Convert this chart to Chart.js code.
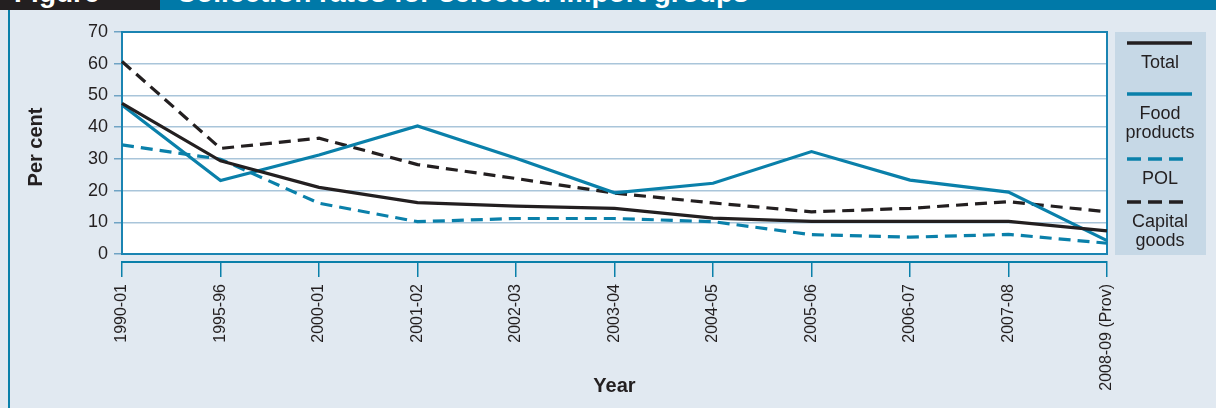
<!DOCTYPE html>
<html>
<head>
<meta charset="utf-8">
<script src="https://cdn.jsdelivr.net/npm/chart.js@4/dist/chart.umd.min.js"></script>
<style>
  html, body { margin: 0; padding: 0; }
  body { width: 1216px; height: 408px; background: #e1e9f1; position: relative; overflow: hidden; font-family: "Liberation Sans", Arial, sans-serif; }
  #head { position: absolute; left: 0; top: 0; width: 1216px; height: 10px; background: #0079a8; overflow: hidden; z-index: 2; }
  #fig { position: absolute; left: 0; top: 0; width: 160px; height: 10px; background: #231f20; overflow: hidden; }
  .htext { position: absolute; top: -21px; color: #fff; font-weight: bold; font-size: 28px; line-height: 28px; white-space: nowrap; }
  #edge { position: absolute; left: 8px; top: 10px; width: 2px; height: 398px; background: #0a80aa; }
  #chart { position: absolute; left: 0; top: 0; }
</style>
</head>
<body>
<div id="head">
  <div id="fig"><span class="htext" style="left:14px">Figure</span></div>
  <span class="htext" style="left:176px">Collection rates for selected import groups</span>
</div>
<div id="edge"></div>
<canvas id="chart" width="1216" height="408"></canvas>
<script>
const years = ['1990-01', '1995-96', '2000-01', '2001-02', '2002-03', '2003-04', '2004-05', '2005-06', '2006-07', '2007-08', '2008-09 (Prov)'];
const total = [47.5, 29.4, 21, 16.2, 15.1, 14.4, 11.3, 10.3, 10.3, 10.3, 7.3];
const foodProducts = [47, 23.2, 31.2, 40.4, 30.2, 19.3, 22.3, 32.3, 23.3, 19.5, 4.2];
const pol = [34.4, 29.9, 16, 10.2, 11.2, 11.2, 10.2, 6.1, 5.3, 6.2, 3.4];
const capitalGoods = [60.7, 33.3, 36.5, 28.2, 23.8, 19.2, 16.1, 13.3, 14.4, 16.5, 13.3];
const yTicks = [0, 10, 20, 30, 40, 50, 60, 70];

const FONT = '"Liberation Sans", Arial, sans-serif';
const BLUE = '#0a80aa';
const INK = '#231f20';

// white plot box and blue frame between 0 and 70, the x axis sits below it
const plotFrame = {
  id: 'plotFrame',
  beforeDraw(chart) {
    const { ctx, chartArea, scales } = chart;
    const top = scales.y.getPixelForValue(70), bottom = scales.y.getPixelForValue(0);
    ctx.save();
    ctx.fillStyle = '#fff';
    ctx.fillRect(chartArea.left, top, chartArea.right - chartArea.left, bottom - top);
    ctx.restore();
  },
  beforeDatasetsDraw(chart) {
    const { ctx, chartArea, scales } = chart;
    const top = scales.y.getPixelForValue(70), bottom = scales.y.getPixelForValue(0);
    ctx.save();
    ctx.strokeStyle = '#1a84b2';
    ctx.lineWidth = 2;
    ctx.strokeRect(chartArea.left, top, chartArea.right - chartArea.left, bottom - top);
    ctx.restore();
  }
};

// stacked legend box on the right
const sideLegend = {
  id: 'sideLegend',
  afterDraw(chart) {
    const ctx = chart.ctx;
    const itemY = [43, 94, 159, 202];
    ctx.save();
    ctx.fillStyle = '#c6d8e6';
    ctx.fillRect(1115, 32, 91, 223);
    chart.data.datasets.forEach((ds, i) => {
      const y = itemY[i];
      ctx.strokeStyle = ds.borderColor;
      ctx.lineWidth = 3.5;
      ctx.setLineDash(ds.borderDash ? [14, 7] : []);
      ctx.beginPath();
      ctx.moveTo(1127, y);
      ctx.lineTo(ds.borderDash ? 1183 : 1192, y);
      ctx.stroke();
      ctx.setLineDash([]);
      ctx.fillStyle = INK;
      ctx.font = '18px ' + FONT;
      ctx.textAlign = 'center';
      ctx.textBaseline = 'middle';
      ds.label.split(' ').forEach((w, j) => ctx.fillText(w, 1160, y + 20 + j * 19));
    });
    ctx.restore();
  }
};

const line = (label, data, color, dashed) => ({
  label, data,
  borderColor: color,
  borderWidth: 3.2,
  borderDash: dashed ? [12, 7] : undefined,
  pointRadius: 0,
  tension: 0,
  fill: false
});

new Chart(document.getElementById('chart'), {
  type: 'line',
  data: {
    labels: years,
    datasets: [
      line('Total', total, INK, false),
      line('Food products', foodProducts, BLUE, false),
      line('POL', pol, BLUE, true),
      line('Capital goods', capitalGoods, INK, true)
    ]
  },
  options: {
    responsive: false,
    animation: false,
    layout: { padding: { left: 14, right: 109, top: 32, bottom: 0 } },
    plugins: { legend: { display: false }, tooltip: { enabled: false } },
    scales: {
      x: {
        afterFit: s => { s.height = 146; },
        border: { color: BLUE, width: 2 },
        grid: { drawOnChartArea: false, tickLength: 15, color: BLUE, lineWidth: 1.5 },
        ticks: { minRotation: 90, maxRotation: 90, autoSkip: false, padding: 7, color: INK, font: { family: FONT, size: 16 } },
        title: { display: true, text: 'Year', color: INK, padding: { top: 0, bottom: 10 }, font: { family: FONT, size: 20, weight: 'bold' } }
      },
      y: {
        min: -2.52,
        max: 70,
        afterBuildTicks: s => { s.ticks = yTicks.map(v => ({ value: v })); },
        afterFit: s => { s.width = 108; },
        border: { display: false },
        grid: { color: '#a9c5da', lineWidth: 1.5, tickLength: 8, tickColor: '#6fa3c4' },
        ticks: { padding: 6, color: INK, font: { family: FONT, size: 18 } },
        title: { display: true, text: 'Per cent', color: INK, padding: { top: 10, bottom: 0 }, font: { family: FONT, size: 20, weight: 'bold' } }
      }
    }
  },
  plugins: [plotFrame, sideLegend]
});
</script>
</body>
</html>
